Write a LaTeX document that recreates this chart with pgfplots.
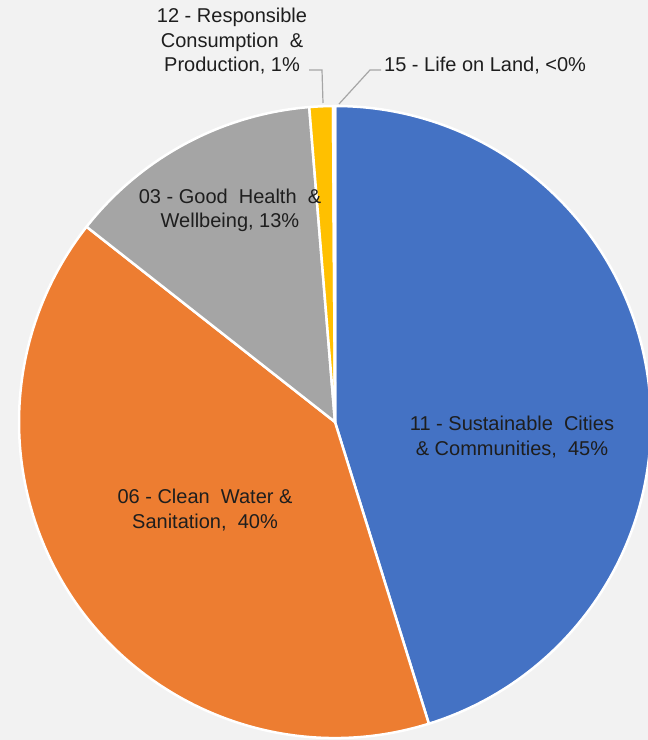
\documentclass[border=0pt]{standalone}
\usepackage{pgfplots}
\usepackage{pgfplotstable}
\pgfplotsset{compat=1.18}
\usepackage{fontspec}
\setmainfont{Liberation Sans}

\definecolor{bg}{HTML}{F2F2F2}
\definecolor{sliceblue}{HTML}{4472C4}
\definecolor{sliceorange}{HTML}{ED7D31}
\definecolor{slicegrey}{HTML}{A5A5A5}
\definecolor{sliceyellow}{HTML}{FFC000}
\definecolor{slicelight}{HTML}{5B9BD5}
\definecolor{labeltext}{HTML}{1E1E1E}
\definecolor{leader}{HTML}{A6A6A6}

\tikzset{
    slice/.style={draw=white, line width=2.5pt, line join=round},
    lbl/.style={font=\fontsize{20}{24.5}\selectfont, text=labeltext, inner sep=0pt},
}

% share of each goal, in percent, clockwise from 12 o'clock
\pgfplotstableread{
goal share
11 45.2
06 40.4
03 13.1
12 1.2
15 0.1
}\piedata

\newcommand\getshare[2]{\pgfplotstablegetelem{#1}{share}\of\piedata\let#2\pgfplotsretval}
\getshare{0}\sA
\getshare{1}\sB
\getshare{2}\sC
\getshare{3}\sD
\getshare{4}\sE
% slice boundaries as tikz angles
\pgfmathsetmacro\aA{90}
\pgfmathsetmacro\aB{\aA-3.6*\sA}
\pgfmathsetmacro\aC{\aB-3.6*\sB}
\pgfmathsetmacro\aD{\aC-3.6*\sC}
\pgfmathsetmacro\aE{\aD-3.6*\sD}
\pgfmathsetmacro\aF{\aE-3.6*\sE}
\def\cx{335}
\def\cy{318}
\def\rad{316}

\begin{document}
\begin{tikzpicture}
    \begin{axis}[
            x=1pt, y=1pt,
            scale only axis,
            xmin=0, xmax=648,
            ymin=0, ymax=740,
            hide axis,
            axis background/.style={fill=bg},
        ]
        \fill[sliceblue, slice] (axis cs:\cx,\cy) -- (axis cs:{\cx+\rad*cos(\aA)},{\cy+\rad*sin(\aA)})
            arc[start angle=\aA, end angle=\aB, radius=\rad pt] -- cycle;
        \fill[sliceorange, slice] (axis cs:\cx,\cy) -- (axis cs:{\cx+\rad*cos(\aB)},{\cy+\rad*sin(\aB)})
            arc[start angle=\aB, end angle=\aC, radius=\rad pt] -- cycle;
        \fill[slicegrey, slice] (axis cs:\cx,\cy) -- (axis cs:{\cx+\rad*cos(\aC)},{\cy+\rad*sin(\aC)})
            arc[start angle=\aC, end angle=\aD, radius=\rad pt] -- cycle;
        \fill[sliceyellow, slice] (axis cs:\cx,\cy) -- (axis cs:{\cx+\rad*cos(\aD)},{\cy+\rad*sin(\aD)})
            arc[start angle=\aD, end angle=\aE, radius=\rad pt] -- cycle;
        \fill[slicelight, slice] (axis cs:\cx,\cy) -- (axis cs:{\cx+\rad*cos(\aE)},{\cy+\rad*sin(\aE)})
            arc[start angle=\aE, end angle=\aF, radius=\rad pt] -- cycle;

        % leader lines
        \draw[leader, line width=1.2pt] (axis cs:309,670) -- (axis cs:322,670) -- (axis cs:323,637);
        \draw[leader, line width=1.2pt] (axis cs:381,670) -- (axis cs:370,670) -- (axis cs:339,636);

        % data labels
        \node[lbl, align=center] at (axis cs:232,698.5) {12 - Responsible\\Consumption \ \&\\Production, 1\%};
        \node[lbl, anchor=west] at (axis cs:384,674) {15 - Life on Land, <0\%};
        \node[lbl, align=center] at (axis cs:230,529.5) {03 - Good \ Health \ \&\\Wellbeing, 13\%};
        \node[lbl, align=center] at (axis cs:512,303) {11 - Sustainable \ Cities\\\& Communities, \ 45\%};
        \node[lbl, align=center] at (axis cs:205,230) {06 - Clean \ Water \&\\Sanitation, \ 40\%};
    \end{axis}
    \pgfresetboundingbox
    \useasboundingbox (current axis.south west) rectangle (current axis.north east);
\end{tikzpicture}
\end{document}
